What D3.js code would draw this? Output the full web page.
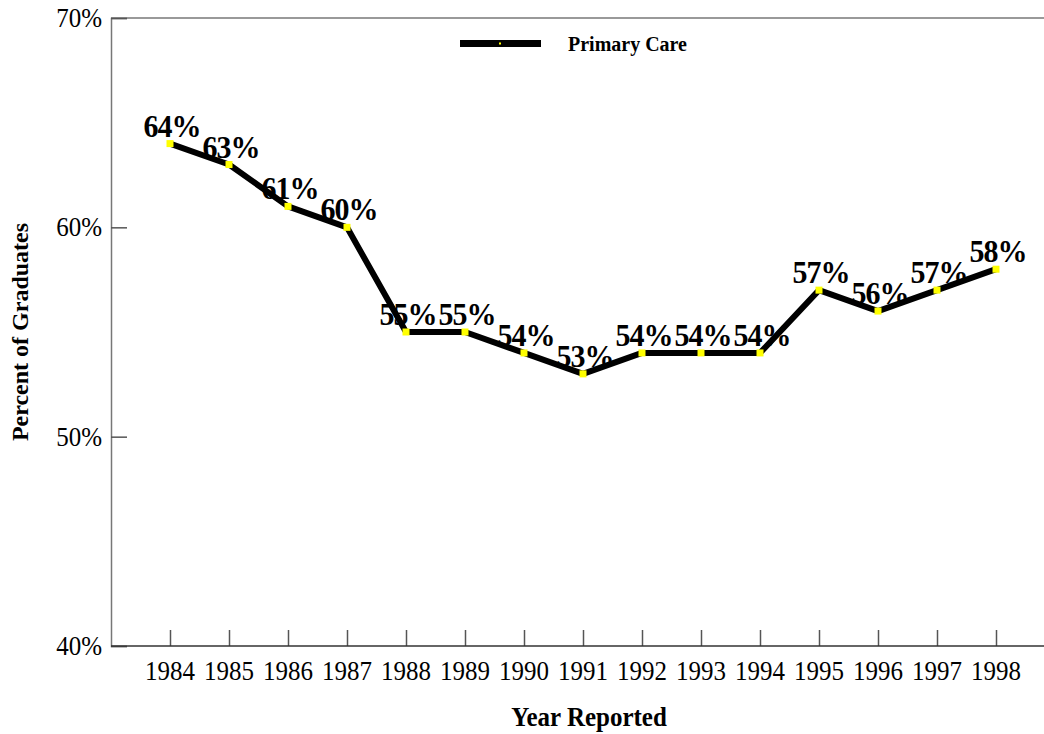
<!DOCTYPE html>
<html>
<head>
<meta charset="utf-8">
<script src="https://cdn.jsdelivr.net/npm/d3@7"></script>
<style>
    body { margin: 0; background: #fff; }
    svg { display: block; font-family: "Liberation Serif", "Times New Roman", serif; }
</style>
</head>
<body>
<svg id="chart" width="1044" height="734"></svg>
<script>
// data
const years = [1984, 1985, 1986, 1987, 1988, 1989, 1990, 1991, 1992, 1993, 1994, 1995, 1996, 1997, 1998];
const primaryCare = [64, 63, 61, 60, 55, 55, 54, 53, 54, 54, 54, 57, 56, 57, 58];
const yTicks = [40, 50, 60, 70];
const seriesName = 'Primary Care';

const
    svg = d3.select('#chart'),
    W = 1044,
    m = { left: 111, top: 18, bottom: 646 },
    stretch = 1.07; // the original text is a bit taller than wide

const x = d3.scaleLinear().domain([1983, 1999]).range([m.left, m.left + 16 * 59]);
const y = d3.scaleLinear().domain([40, 70]).range([m.bottom, m.top]);

// place text at (px, py) with a small vertical stretch
function at(px, py) {
    return `translate(${px},${py}) scale(1,${stretch})`;
}

// frame: top line and left line
svg.append('line')
    .attr('x1', m.left).attr('x2', W)
    .attr('y1', m.top).attr('y2', m.top)
    .attr('stroke', '#777').attr('stroke-width', 1.5);

// y axis, ticks pointing inward
const yAxis = svg.append('g')
    .attr('transform', `translate(${m.left},0)`)
    .call(d3.axisRight(y).tickValues(yTicks).tickSize(16).tickFormat(''));
yAxis.select('.domain').attr('stroke', '#777').attr('stroke-width', 1.5);
yAxis.selectAll('.tick line').attr('stroke', '#555').attr('stroke-width', 1.5);

svg.append('g').selectAll('text')
    .data(yTicks)
    .join('text')
    .attr('transform', d => at(102, y(d) + 9))
    .attr('text-anchor', 'end')
    .attr('font-size', 25)
    .text(d => d + '%');

// x axis, ticks pointing up
const xAxis = svg.append('g')
    .attr('transform', `translate(0,${m.bottom})`)
    .call(d3.axisTop(x).tickValues(years).tickSize(16).tickFormat(''));
xAxis.select('.domain').remove();
xAxis.selectAll('.tick line').attr('stroke', '#555').attr('stroke-width', 1.5);
svg.append('line')
    .attr('x1', m.left).attr('x2', W)
    .attr('y1', m.bottom).attr('y2', m.bottom)
    .attr('stroke', '#333').attr('stroke-width', 1.5);

svg.append('g').selectAll('text')
    .data(years)
    .join('text')
    .attr('transform', d => at(x(d), 680))
    .attr('text-anchor', 'middle')
    .attr('font-size', 25)
    .text(d => d);

// axis titles
svg.append('text')
    .attr('transform', at(589, 726))
    .attr('text-anchor', 'middle')
    .attr('font-size', 25).attr('font-weight', 'bold')
    .text('Year Reported');

svg.append('text')
    .attr('transform', 'translate(28,332) rotate(-90)')
    .attr('text-anchor', 'middle')
    .attr('font-size', 24).attr('font-weight', 'bold')
    .text('Percent of Graduates');

const pts = years.map((yr, i) => ({ yr: yr, v: primaryCare[i] }));

// value labels (under the line)
svg.append('g').selectAll('text')
    .data(pts)
    .join('text')
    .attr('transform', d => at(x(d.yr) + 2, y(d.v) - 7))
    .attr('text-anchor', 'middle')
    .attr('font-size', 30).attr('font-weight', 'bold')
    .attr('letter-spacing', -1)
    .text(d => d.v + '%');

// line
svg.append('path')
    .datum(pts)
    .attr('fill', 'none')
    .attr('stroke', '#000')
    .attr('stroke-width', 6)
    .attr('stroke-linejoin', 'round')
    .attr('d', d3.line().x(d => x(d.yr)).y(d => y(d.v)));

// markers
svg.append('g').selectAll('rect')
    .data(pts)
    .join('rect')
    .attr('x', d => x(d.yr) - 3.5)
    .attr('y', d => y(d.v) - 3.5)
    .attr('width', 7).attr('height', 7)
    .attr('fill', '#ffff00');

// legend
svg.append('line')
    .attr('x1', 460).attr('x2', 541)
    .attr('y1', 43.5).attr('y2', 43.5)
    .attr('stroke', '#000').attr('stroke-width', 7);
svg.append('rect')
    .attr('x', 499).attr('y', 42.5)
    .attr('width', 2).attr('height', 2)
    .attr('fill', '#ffff00');
svg.append('text')
    .attr('transform', at(568, 51))
    .attr('font-size', 20).attr('font-weight', 'bold')
    .text(seriesName);
</script>
</body>
</html>
